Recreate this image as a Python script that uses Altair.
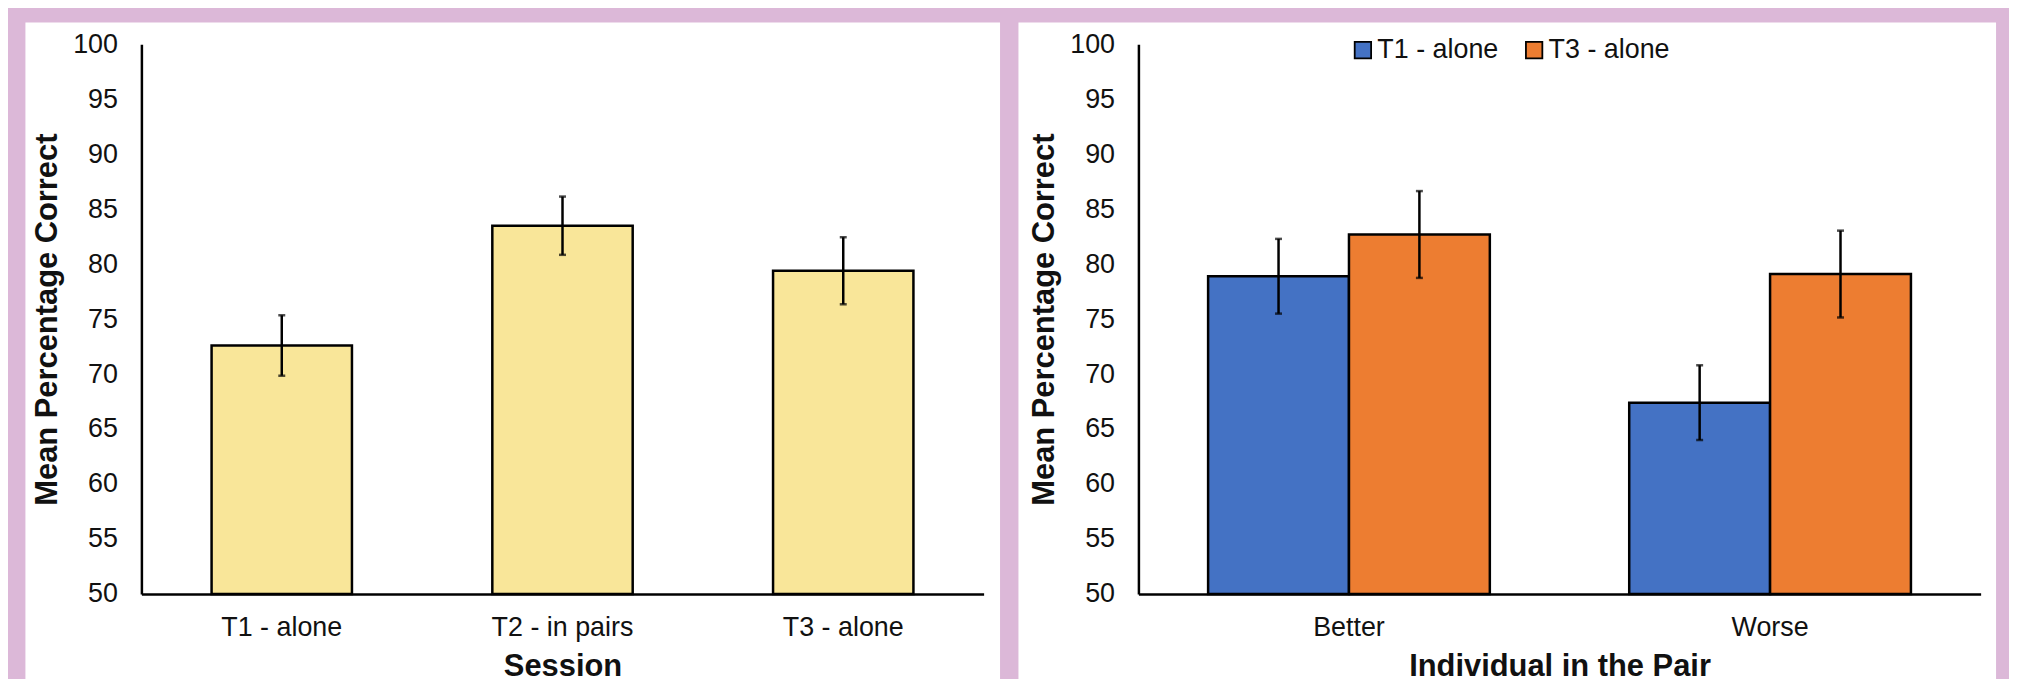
import altair as alt
import pandas as pd

# ---------------- data ----------------
sessions = ["T1 - alone", "T2 - in pairs", "T3 - alone"]
session_means = [72.6, 83.5, 79.4]
session_err = [2.75, 2.65, 3.05]

pair_roles = ["Better", "Better", "Worse", "Worse"]
pair_series = ["T1 - alone", "T3 - alone", "T1 - alone", "T3 - alone"]
pair_means = [78.9, 82.7, 67.4, 79.1]
pair_err = [3.4, 3.95, 3.4, 3.95]

role_order = ["Better", "Worse"]
series_order = ["T1 - alone", "T3 - alone"]
series_colors = ["#4472C4", "#ED7D31"]
y_ticks = [50, 55, 60, 65, 70, 75, 80, 85, 90, 95, 100]

# ---------------- layout ----------------
W = 846
H = 552
FONT = "Liberation Sans"
TXT = "#111111"

df1 = pd.DataFrame({"Session": sessions, "Mean": session_means, "Err": session_err})
df1["Lo"] = df1["Mean"] - df1["Err"]
df1["Hi"] = df1["Mean"] + df1["Err"]

df2 = pd.DataFrame({"Role": pair_roles, "Series": pair_series,
                    "Mean": pair_means, "Err": pair_err})
df2["Lo"] = df2["Mean"] - df2["Err"]
df2["Hi"] = df2["Mean"] + df2["Err"]

yscale = alt.Scale(domain=[50, 100], nice=False, zero=False)
yaxis = alt.Axis(values=y_ticks, title="Mean Percentage Correct", labelPadding=24,
                 titlePadding=9, zindex=1)


def panel(left, right):
    return alt.Chart(pd.DataFrame({"p": [0]})).mark_rect(color="white").encode(
        x=alt.value(left), x2=alt.value(right), y=alt.value(-22), y2=alt.value(640)
    )


# ----- left chart -----
x1 = alt.X("Session:N", sort=sessions,
           scale=alt.Scale(paddingInner=0.5, paddingOuter=0.25),
           axis=alt.Axis(title="Session", labelAngle=0, labelPadding=21, titlePadding=11,
                         zindex=1))
bars1 = alt.Chart(df1).mark_bar(color="#F9E699", stroke="black", strokeWidth=2.5).encode(
    x=x1,
    y=alt.Y("Mean:Q", scale=yscale, axis=yaxis),
    y2=alt.datum(50),
)
rule1 = alt.Chart(df1).mark_rule(color="black", strokeWidth=2.5).encode(
    x=x1, y="Lo:Q", y2="Hi:Q")
caplo1 = alt.Chart(df1).mark_tick(color="black", size=7, thickness=2.5).encode(x=x1, y="Lo:Q")
caphi1 = alt.Chart(df1).mark_tick(color="black", size=7, thickness=2.5).encode(x=x1, y="Hi:Q")
left = alt.layer(panel(-116.5, 862.5), bars1, rule1, caplo1, caphi1).properties(width=W, height=H)

# ----- right chart -----
x2 = alt.X("Role:N", sort=role_order,
           scale=alt.Scale(paddingInner=0.331, paddingOuter=0.1655),
           axis=alt.Axis(title="Individual in the Pair", labelAngle=0, labelPadding=21,
                         titlePadding=11, zindex=1))
xo = alt.XOffset("Series:N", sort=series_order,
                 scale=alt.Scale(paddingInner=0, paddingOuter=0))
color = alt.Color("Series:N", sort=series_order,
                  scale=alt.Scale(domain=series_order, range=series_colors),
                  legend=alt.Legend(title=None, orient="none", direction="horizontal",
                                    legendX=212, legendY=-8, symbolType="square",
                                    symbolSize=272, symbolStrokeColor="black",
                                    symbolStrokeWidth=1.8, labelFontSize=27,
                                    labelFont=FONT, labelColor=TXT, labelOffset=1,
                                    columnPadding=22, zindex=1))
bars2 = alt.Chart(df2).mark_bar(stroke="black", strokeWidth=2.5).encode(
    x=x2, xOffset=xo,
    y=alt.Y("Mean:Q", scale=yscale, axis=yaxis),
    y2=alt.datum(50),
    color=color,
)
rule2 = alt.Chart(df2).mark_rule(color="black", strokeWidth=2.5).encode(
    x=x2, xOffset=xo, y="Lo:Q", y2="Hi:Q")
caplo2 = alt.Chart(df2).mark_tick(color="black", size=7, thickness=2.5).encode(
    x=x2, xOffset=xo, y="Lo:Q")
caphi2 = alt.Chart(df2).mark_tick(color="black", size=7, thickness=2.5).encode(
    x=x2, xOffset=xo, y="Hi:Q")
right = alt.layer(panel(-120.5, 861.5), bars2, rule2, caplo2, caphi2).properties(width=W, height=H)

chart = alt.hconcat(left, right, spacing=17.5).resolve_scale(color="independent").properties(
    padding={"left": 17, "top": 13, "right": 13, "bottom": 0},
    background="#DCB8D8",
).configure_view(stroke=None).configure_axis(
    domainColor="black", domainWidth=2.5, ticks=False, tickSize=0, grid=False,
    labelFont=FONT, labelFontSize=27, labelColor=TXT,
    titleFont=FONT, titleFontSize=31, titleFontWeight="bold", titleColor=TXT,
)

chart.save("out.html", embed_options={"renderer": "svg", "actions": False})
